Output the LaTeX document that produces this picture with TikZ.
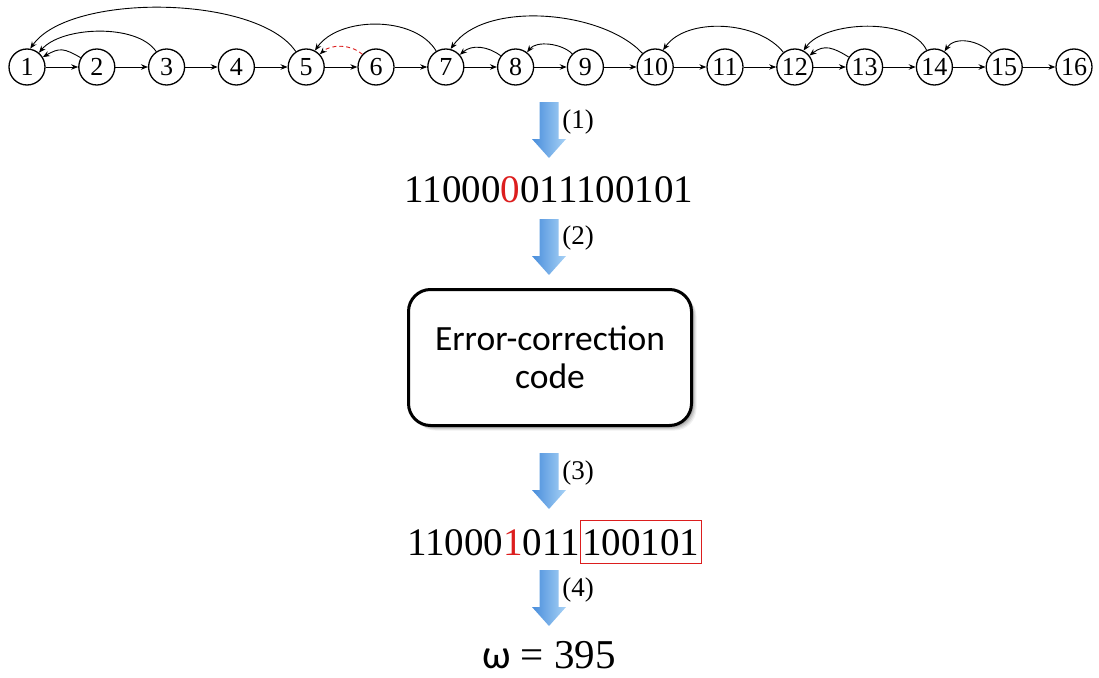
\documentclass[tikz,border=0pt]{standalone}
\usepackage{fontspec}
\setmainfont{Liberation Serif}
\newfontfamily\calibri{Carlito}
\usetikzlibrary{arrows.meta}

\definecolor{arrL}{RGB}{72,141,219}
\definecolor{arrR}{RGB}{168,210,246}
\definecolor{errred}{RGB}{220,30,30}

\tikzset{
  vtx/.style={circle,draw,line width=1.3pt,minimum size=36pt,inner sep=0pt,
              font=\fontsize{26}{26}\selectfont},
  fwd/.style={-{Stealth[length=7pt,width=5.5pt]},line width=0.9pt},
  back/.style={-{Stealth[length=7pt,width=5.5pt]},line width=0.9pt},
  bits/.style={inner sep=0pt,font=\fontsize{39}{39}\selectfont},
  steplabel/.style={inner sep=0pt,font=\fontsize{27}{27}\selectfont},
  fatarrow/.pic={
    \shade[left color=arrL,right color=arrR]
      (-9.5,0) -- (9.5,0) -- (9.5,37) -- (17,37) -- (0,56) -- (-17,37) -- (-9.5,37) -- cycle;
  },
}

\begin{document}
\begin{tikzpicture}[x=1pt,y=-1pt]
\useasboundingbox (0,0) rectangle (1099,677);

% ---- the chain of 16 vertices ----
\foreach \i in {1,...,16}
  \node[vtx] (v\i) at ({27+(\i-1)*69.8},67) {\i};
\foreach \i in {1,...,15}{
  \pgfmathtruncatemacro\j{\i+1}
  \draw[fwd] (v\i) -- (v\j);
}

% ---- backward edges ----
\draw[back] (v2.150)  to[out=150,in=30,looseness=1.3]  (v1.32);
\draw[back] (v3.124)  to[out=124,in=50,looseness=0.75] (v1.50);
\draw[back] (v5.124)  to[out=124,in=55,looseness=0.66] (v1.80);
\draw[back,errred,dash pattern=on 4pt off 3pt,-{Stealth[length=7pt,width=5.5pt,black]}]
            (v6.137)  to[out=137,in=43,looseness=0.9]  (v5.43);
\draw[back] (v7.121)  to[out=121,in=55,looseness=0.88] (v5.62);
\draw[back] (v8.143)  to[out=143,in=41,looseness=1]    (v7.41);
\draw[back] (v9.135)  to[out=135,in=52,looseness=0.85] (v8.52);
\draw[back] (v10.133) to[out=133,in=55,looseness=0.79] (v7.75);
\draw[back] (v12.128) to[out=128,in=55,looseness=0.86] (v10.65);
\draw[back] (v13.148) to[out=148,in=38,looseness=1.2]  (v12.38);
\draw[back] (v14.115) to[out=115,in=55,looseness=0.76] (v12.62);
\draw[back] (v15.133) to[out=133,in=57,looseness=1]    (v14.57);

% ---- step (1) ----
\pic at (549,102) {fatarrow};
\node[steplabel] (s1) at (578,122) {(1)};
\node[bits,anchor=base] (code1) at (549,202) {11000{\color{errred}0}011100101};

% ---- step (2) ----
\pic at (549,219) {fatarrow};
\node[steplabel] (s2) at (578,238) {(2)};

% ---- error-correction box with soft shadow ----
\foreach \d/\o in {5/0.06,4/0.08,3/0.10,2/0.12}
  \fill[black,opacity=\o,rounded corners=22pt]
    (408.5+\d,289.5+\d) rectangle (691.5+\d,425.5+\d);
\node[draw,line width=3pt,rounded corners=22pt,fill=white,
      minimum width=283pt,minimum height=136pt,align=center,
      font=\calibri\fontsize{35.5}{38}\selectfont] (ecc) at (550,357.5)
  {Error-correction\\code};

% ---- step (3) ----
\pic at (549,453) {fatarrow};
\node[steplabel] (s3) at (578,473) {(3)};
\node[bits,anchor=base east] (code2) at (580,555) {11000{\color{errred}1}011};
\node[bits,anchor=base west,draw=errred,line width=0.8pt,inner xsep=2pt,
      inner ysep=8pt,text height=27pt,text depth=0pt] (tail) at (580,555) {100101};

% ---- step (4) ----
\pic at (549,570) {fatarrow};
\node[steplabel] (s4) at (578,590) {(4)};
\node[inner sep=0pt,anchor=base,font=\fontsize{41}{41}\selectfont] (omega) at (549,668)
  {{\calibri ω} = 395};
\end{tikzpicture}
\end{document}
